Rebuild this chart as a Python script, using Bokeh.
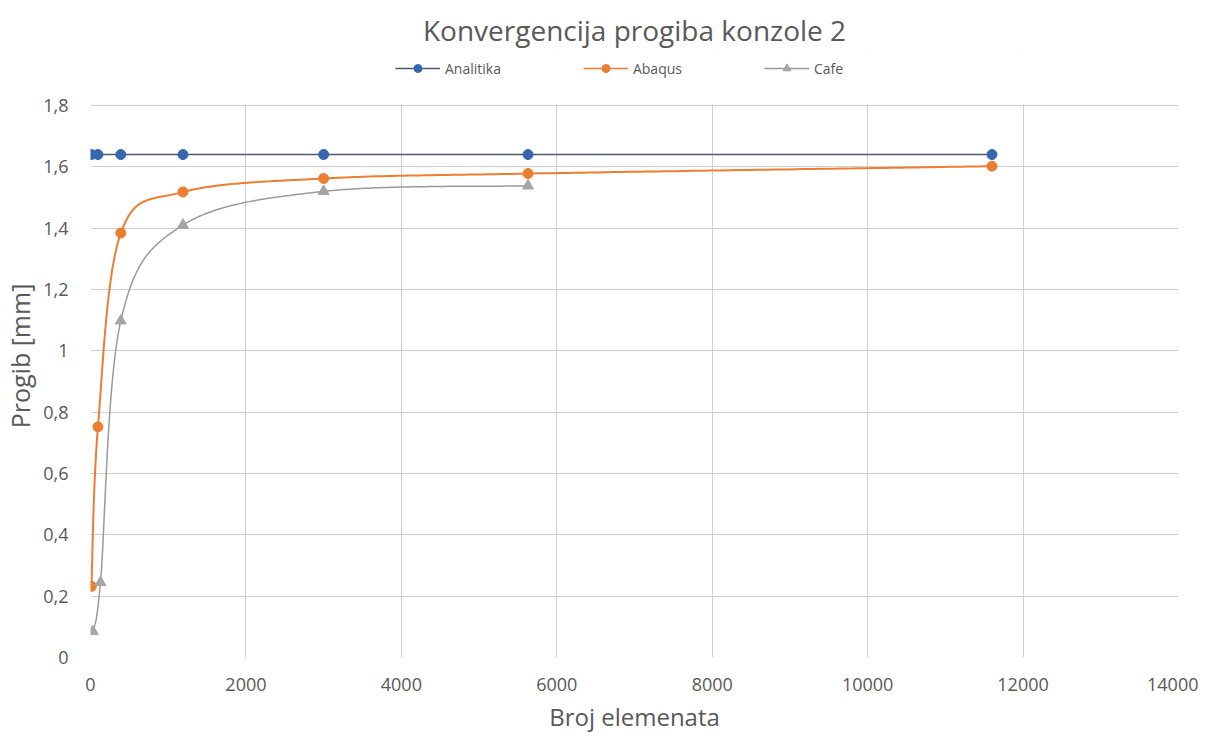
import numpy as np
from bokeh.plotting import figure
from bokeh.models import (FixedTicker, CustomJSTickFormatter, Legend, LegendItem, Range1d, BoxAnnotation)
from bokeh.embed import file_html
from bokeh.resources import INLINE

# ---- data ----
x_analitika = [12, 96, 390, 1190, 3000, 5630, 11600]
y_analitika = [1.64, 1.64, 1.64, 1.64, 1.64, 1.64, 1.64]
x_abaqus = [12, 96, 390, 1190, 3000, 5630, 11600]
y_abaqus = [0.232, 0.752, 1.384, 1.518, 1.562, 1.578, 1.602]
x_cafe = [30, 128, 390, 1190, 3000, 5630]
y_cafe = [0.085, 0.245, 1.098, 1.41, 1.52, 1.538]
x_ticks = [0, 2000, 4000, 6000, 8000, 10000, 12000, 14000]
y_ticks = [0, 0.2, 0.4, 0.6, 0.8, 1.0, 1.2, 1.4, 1.6, 1.8]
series_names = ["Analitika", "Abaqus", "Cafe"]

TXT = "#595959"
FONT = "Open Sans"
Y_MAX = 1.8
FRAME_H = 603
PLOT_H = 552  # pixel height of the 0..1.8 band


def smooth(xs, ys, n=60):
    """Excel-like smoothed line (Catmull-Rom Bezier through the data points)."""
    P = np.column_stack([xs, ys]).astype(float)
    m = len(P)
    out = []
    for i in range(m - 1):
        p0 = P[i - 1] if i > 0 else P[i]
        p1 = P[i]
        p2 = P[i + 1]
        p3 = P[i + 2] if i + 2 < m else P[i + 1]
        c1 = p1 + (p2 - p0) / 6.0
        c2 = p2 - (p3 - p1) / 6.0
        t = np.linspace(0, 1, n)[:, None]
        seg = ((1 - t) ** 3) * p1 + 3 * ((1 - t) ** 2) * t * c1 + 3 * (1 - t) * t ** 2 * c2 + t ** 3 * p2
        out.append(seg if i == 0 else seg[1:])
    arr = np.vstack(out)
    return arr[:, 0], arr[:, 1]


y_top = Y_MAX * FRAME_H / PLOT_H

p = figure(frame_width=1088, frame_height=FRAME_H, output_backend="svg", toolbar_location=None,
           x_range=Range1d(0, 14000), y_range=Range1d(0, y_top),
           min_border_left=84, min_border_right=20, min_border_top=54, min_border_bottom=78,
           title="Konvergencija progiba konzole 2")
p.outline_line_color = None
p.background_fill_color = "white"
p.border_fill_color = "white"

p.title.align = "center"
p.title.text_font = FONT
p.title.text_font_size = "28px"
p.title.text_font_style = "normal"
p.title.text_color = TXT
p.title.standoff = 12

for ax in (p.xaxis[0], p.yaxis[0]):
    ax.axis_line_color = None
    ax.major_tick_line_color = None
    ax.minor_tick_line_color = None
    ax.major_label_text_font = FONT
    ax.major_label_text_font_size = "18px"
    ax.major_label_text_color = TXT
    ax.axis_label_text_font = FONT
    ax.axis_label_text_font_style = "normal"
    ax.axis_label_text_color = TXT

p.xaxis.axis_label_text_font_size = "24px"
p.yaxis.axis_label_text_font_size = "25px"
p.xaxis.ticker = FixedTicker(ticks=x_ticks)
p.yaxis.ticker = FixedTicker(ticks=y_ticks)
p.yaxis.formatter = CustomJSTickFormatter(code="""
    var s = (Math.round(tick*10)/10).toString();
    return s.replace('.', ',');
""")
p.xaxis.axis_label = "Broj elemenata"
p.yaxis.axis_label = "Progib [mm]"
p.xaxis.major_label_standoff = 14
p.yaxis.major_label_standoff = 16
p.xaxis.axis_label_standoff = 6
p.yaxis.axis_label_standoff = 3

p.xgrid.ticker = FixedTicker(ticks=x_ticks)
p.ygrid.ticker = FixedTicker(ticks=y_ticks)
p.xgrid.grid_line_color = "#CFCFCF"
p.ygrid.grid_line_color = "#CFCFCF"

# white band hides the vertical grid lines above the top of the value axis
p.add_layout(BoxAnnotation(bottom=Y_MAX + 0.004, fill_color="white", fill_alpha=1.0,
                           line_color=None, level="underlay"))

BLUE_LINE = "#4F5A69"
BLUE = "#3566B0"
ORANGE = "#ED7D31"
GRAY_LINE = "#9A9A9A"
GRAY = "#A5A5A5"

p.line(x_analitika, y_analitika, line_color=BLUE_LINE, line_width=1.6)
p.scatter(x_analitika, y_analitika, marker="circle", size=10, fill_color=BLUE, line_color=BLUE)

ax_s, ay_s = smooth(x_abaqus, y_abaqus)
p.line(ax_s, ay_s, line_color=ORANGE, line_width=2)
p.scatter(x_abaqus, y_abaqus, marker="circle", size=10, fill_color=ORANGE, line_color=ORANGE)

cx_s, cy_s = smooth(x_cafe, y_cafe)
p.line(cx_s, cy_s, line_color=GRAY_LINE, line_width=1.5)
p.scatter(x_cafe, y_cafe, marker="triangle", size=11, fill_color=GRAY, line_color=GRAY)

# legend keys (proxies without visible data; small markers as in the reference)
items = []
for name, lc, mc, mk in zip(series_names, [BLUE_LINE, ORANGE, GRAY_LINE], [BLUE, ORANGE, GRAY],
                            ["circle", "circle", "triangle"]):
    kl = p.line(x=[np.nan], y=[np.nan], line_color=lc, line_width=1.6)
    km = p.scatter(x=[np.nan], y=[np.nan], marker=mk, size=5, fill_color=mc, line_color=mc)
    items.append(LegendItem(label=name, renderers=[kl, km]))

legend = Legend(items=items, orientation="horizontal", location=(305, FRAME_H - 24))
legend.label_text_font = FONT
legend.label_text_font_size = "14px"
legend.label_text_color = TXT
legend.glyph_width = 45
legend.glyph_height = 20
legend.label_height = 20
legend.label_standoff = 5
legend.spacing = 82
legend.padding = 0
legend.margin = 0
legend.border_line_color = None
legend.background_fill_alpha = 0
p.add_layout(legend, "center")

open("out.html", "w").write(file_html(p, INLINE))
